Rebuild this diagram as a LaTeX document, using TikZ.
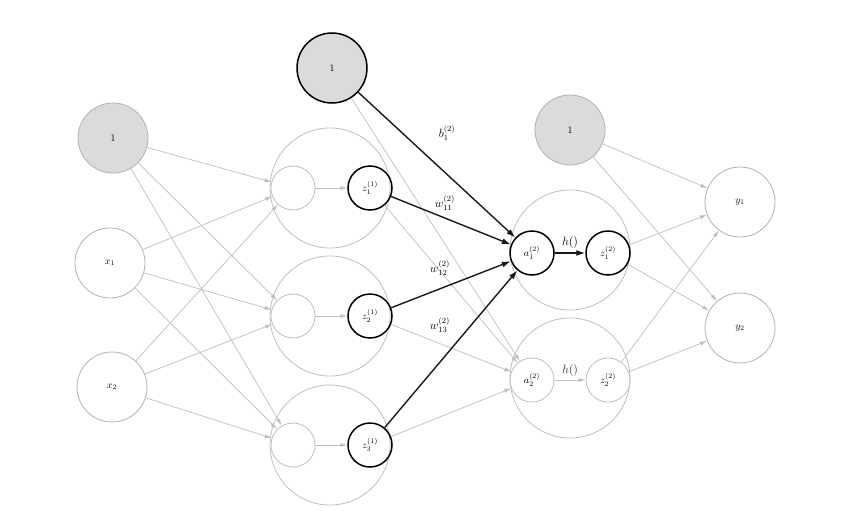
\documentclass[tikz,border=0pt]{standalone}
\usetikzlibrary{arrows.meta}
\begin{document}
\begin{tikzpicture}[x=1pt,y=-1pt,
  big/.style={circle,draw=black!25,line width=0.8pt,minimum size=120pt,inner sep=0},
  sm/.style={circle,draw=black!25,line width=0.8pt,minimum size=44pt,inner sep=0},
  hs/.style={circle,draw=black,line width=1.5pt,minimum size=44pt,inner sep=0},
  io/.style={circle,draw=black!30,line width=0.8pt,minimum size=70pt,inner sep=0},
  bias/.style={io,fill=black!14},
  ga/.style={draw=black!25,line width=0.7pt,-{Latex[length=7pt,width=4pt]}},
  ba/.style={draw=black!90,line width=1.4pt,-{Latex[length=9pt,width=6pt]}},
  lb/.style={font=\large}]
\useasboundingbox (0,0) rectangle (858,519);
\node[bias] (b1) at (113,138) {1};
\node[io] (x1) at (110,263) {$x_1$};
\node[io] (x2) at (112,387) {$x_2$};
\foreach \i/\y in {1/188,2/316,3/445}{
  \node[big] (H\i) at (330,\y) {};
  \node[sm] (s\i) at (293,\y) {};
  \node[hs] (z\i) at (370,\y) {$z_{\i}^{(1)}$};
  \draw[ga] (s\i) -- (z\i);
  \foreach \src in {b1,x1,x2} \draw[ga] (\src) -- (s\i);
}
\node[bias,line width=1.5pt,draw=black] (b2) at (332,68) {1};
\node[big] (A1) at (570,250) {};
\node[big] (A2) at (570,378) {};
\node[hs] (a1) at (532,253) {$a_1^{(2)}$};
\node[hs] (o1) at (608,253) {$z_1^{(2)}$};
\node[sm] (a2) at (532,380) {$a_2^{(2)}$};
\node[sm] (o2) at (608,380) {$z_2^{(2)}$};
\node[bias] (b3) at (570,130) {1};
\node[io] (y1) at (740,202) {$y_1$};
\node[io] (y2) at (740,328) {$y_2$};
\foreach \src in {b2,z1,z2,z3} \draw[ga] (\src) -- (a2);
\draw[ga] (a2) -- node[above,lb,text=black!80]{$h()$} (o2);
\foreach \src in {b3,o1,o2}{\draw[ga] (\src) -- (y1); \draw[ga] (\src) -- (y2);}
\draw[ba] (b2) -- (a1);
\draw[ba] (z1) -- (a1);
\draw[ba] (z2) -- (a1);
\draw[ba] (z3) -- (a1);
\draw[ba] (a1) -- node[above,lb]{$h()$} (o1);
\node[lb] (lb1) at (447,133) {$b_1^{(2)}$};
\node[lb] (lw1) at (445,203) {$w_{11}^{(2)}$};
\node[lb] (lw2) at (440,268) {$w_{12}^{(2)}$};
\node[lb] (lw3) at (440,325) {$w_{13}^{(2)}$};
\end{tikzpicture}
\end{document}
